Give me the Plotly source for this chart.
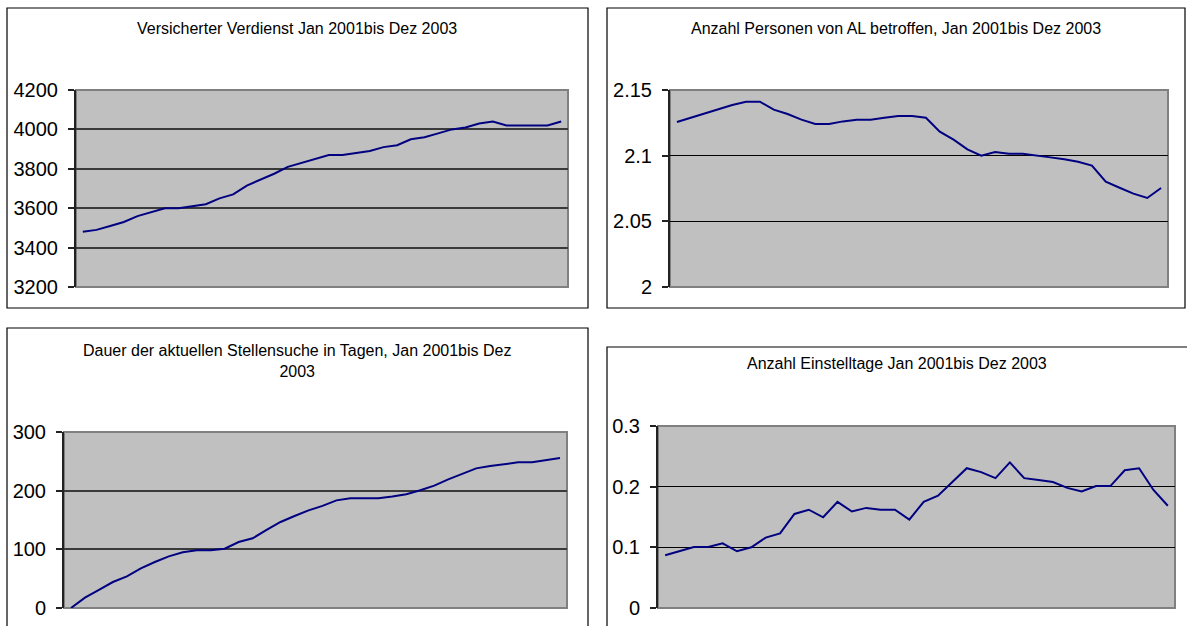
import plotly.graph_objects as go

W, H = 1187, 626

months = list(range(36))  # Jan 2001 .. Dec 2003

verdienst = [3480, 3490, 3510, 3530, 3560, 3580, 3600, 3600, 3610, 3620, 3650, 3670,
             3715, 3745, 3775, 3810, 3830, 3850, 3870, 3870, 3880, 3890, 3910, 3920,
             3950, 3960, 3980, 4000, 4010, 4030, 4040, 4020, 4020, 4020, 4020, 4040]

personen = [2.1256, 2.1289, 2.1322, 2.1355, 2.1386, 2.1411, 2.1411, 2.1350, 2.1317, 2.1274, 2.1241, 2.1241,
            2.1261, 2.1274, 2.1274, 2.1289, 2.1302, 2.1302, 2.1289, 2.1183, 2.1122, 2.1048, 2.1000, 2.1028,
            2.1015, 2.1015, 2.1003, 2.0987, 2.0972, 2.0954, 2.0924, 2.0802, 2.0756, 2.0711, 2.0678, 2.0754]

dauer = [0, 17.6, 30.7, 44.3, 54, 67.6, 78.4, 88, 95, 98.3, 98.3, 101,
         112.5, 118.8, 133, 146.6, 156.8, 166.5, 174, 183.5, 187, 187, 187, 190,
         193.8, 200.6, 208.5, 219.3, 228.4, 238, 242, 245.5, 248.3, 248.3, 252.3, 255.7]

einstelltage = [0.087, 0.094, 0.1005, 0.1005, 0.1065, 0.0935, 0.100, 0.116, 0.123, 0.155, 0.162, 0.1495,
                0.175, 0.159, 0.165, 0.162, 0.162, 0.1457, 0.175, 0.185, 0.2076, 0.2304, 0.224, 0.214,
                0.240, 0.214, 0.211, 0.2076, 0.198, 0.192, 0.201, 0.201, 0.227, 0.2304, 0.1946, 0.1685]

titles = [
    "Versicherter Verdienst Jan 2001bis Dez 2003",
    "Anzahl Personen von AL betroffen, Jan 2001bis Dez 2003",
    "Dauer der aktuellen Stellensuche in Tagen, Jan 2001bis Dez<br>2003",
    "Anzahl Einstelltage Jan 2001bis Dez 2003",
]
series = [verdienst, personen, dauer, einstelltage]
y_ranges = [[3200, 4200], [2.0, 2.15], [0, 300], [0, 0.3]]
y_dticks = [200, 0.05, 100, 0.1]
grid_styles = [("#3a3a3a", 2), ("#000000", 1), ("#3a3a3a", 2), ("#000000", 1)]

# pixel geometry (x0, x1, y0, y1) with y from top
borders = [(7, 588, 8, 308), (607, 1185, 8, 308), (7, 588, 328, 640), (607, 1190, 347, 640)]
plots = [(76, 568, 90, 287), (670, 1168, 90, 287), (64, 567, 432, 608), (658, 1175, 426, 608)]
title_y = [29, 29, 361, 363]

fig = go.Figure()
shapes = []
annotations = []
layout = {}

def px_x(v):
    return v / W

def px_y(v):
    return 1 - v / H

FONT = "Liberation Sans, Arial, sans-serif"

for i in range(4):
    n = "" if i == 0 else str(i + 1)
    xa = "x" + n
    ya = "y" + n
    fig.add_trace(go.Scatter(x=months, y=series[i], mode="lines",
                             line=dict(color="#000080", width=2),
                             xaxis=xa, yaxis=ya, showlegend=False, hoverinfo="skip"))
    x0, x1, y0, y1 = plots[i]
    layout["xaxis" + n] = dict(domain=[px_x(x0), px_x(x1)], range=[-0.5, 35.5],
                               showticklabels=False, showgrid=False, zeroline=False,
                               ticks="", showline=False, anchor=ya, fixedrange=True,
                               automargin=False)
    gc, gw = grid_styles[i]
    layout["yaxis" + n] = dict(domain=[px_y(y1), px_y(y0)], range=y_ranges[i], dtick=y_dticks[i],
                               tick0=y_ranges[i][0],
                               showgrid=True, gridcolor=gc, gridwidth=gw,
                               zeroline=False, showline=True, linecolor="#222222", linewidth=2,
                               ticks="outside", ticklen=6, tickcolor="#222222", tickwidth=1.5,
                               ticklabelstandoff=6,
                               tickfont=dict(size=20, color="#000000", family=FONT),
                               anchor=xa, fixedrange=True, automargin=False)
    shapes.append(dict(type="rect", xref=xa + " domain", yref=ya + " domain",
                       x0=0, x1=1, y0=0, y1=1, fillcolor="#C0C0C0",
                       line=dict(color="#808080", width=2), layer="below"))
    bx0, bx1, by0, by1 = borders[i]
    shapes.append(dict(type="rect", xref="paper", yref="paper",
                       x0=px_x(bx0), x1=px_x(bx1), y0=px_y(by1), y1=px_y(by0),
                       line=dict(color="#000000", width=1.2), fillcolor="rgba(0,0,0,0)", layer="below"))
    annotations.append(dict(text=titles[i], xref="paper", yref="paper",
                            x=px_x((bx0 + min(bx1, 1187)) / 2), y=px_y(title_y[i]),
                            xanchor="center", yanchor="middle", showarrow=False,
                            font=dict(size=16, color="#000000", family=FONT),
                            align="center"))

fig.update_layout(**layout)
fig.update_layout(width=W, height=H, margin=dict(l=0, r=0, t=0, b=0, autoexpand=False),
                  paper_bgcolor="#FFFFFF", plot_bgcolor="rgba(0,0,0,0)",
                  shapes=shapes, annotations=annotations, showlegend=False)

post = (
    "var de=document.documentElement;de.style.margin='0';de.style.padding='0';"
    "de.style.overflow='hidden';"
    "var b=document.body;b.style.margin='0';b.style.padding='0';b.style.overflow='hidden';"
)

fig.write_html("out.html", config={"displayModeBar": False}, post_script=post)
